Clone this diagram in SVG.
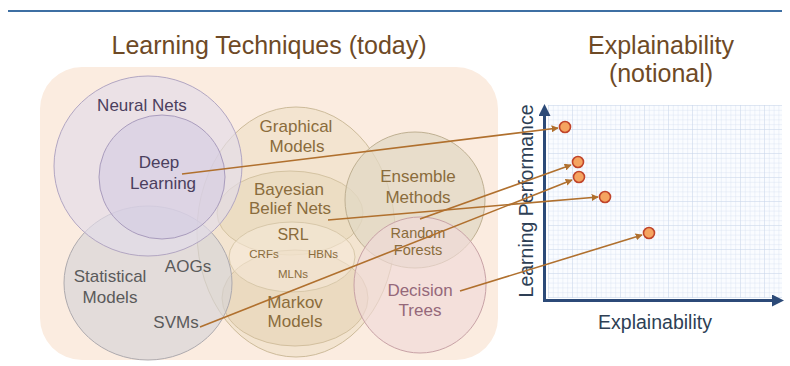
<svg xmlns="http://www.w3.org/2000/svg" width="790" height="366" viewBox="0 0 790 366">
<defs>
<style>
text{font-family:"Liberation Sans",Arial,sans-serif;text-anchor:middle}
.title{font-size:25px;fill:#6e4a26}
.pur{font-size:17px;fill:#4b3f5e}
.gry{font-size:17px;fill:#5a5a5a}
.brn{font-size:17px;fill:#8a6c3c}
.sm{font-size:11.5px;fill:#8a6c3c}
.dt{font-size:17px;fill:#95687a}
.ax{font-size:19.5px;fill:#2e3f55}
.conn{stroke:#b0702e;stroke-width:1.6;fill:none;marker-end:url(#ah)}
.dot{fill:#f5a460;stroke:#c0442a;stroke-width:1.6}
</style>
<marker id="ah" viewBox="0 0 10 10" refX="9" refY="5" markerWidth="7" markerHeight="7" markerUnits="userSpaceOnUse" orient="auto">
<path d="M0,0 L10,5 L0,10 z" fill="#b0702e"/>
</marker>
<marker id="axh" viewBox="0 0 10 10" refX="5" refY="5" markerWidth="4" markerHeight="4" orient="auto">
<path d="M0,0 L10,5 L0,10 z" fill="#2c4a78"/>
</marker>
<pattern id="minor" width="4.8" height="4.8" patternUnits="userSpaceOnUse" x="548" y="105">
<path d="M4.8,0 L0,0 L0,4.8" fill="none" stroke="#d0dcee" stroke-width="0.7"/>
</pattern>
<pattern id="major" width="24" height="24" patternUnits="userSpaceOnUse" x="548" y="105">
<path d="M24,0 L0,0 L0,24" fill="none" stroke="#c6d3e6" stroke-width="0.7"/>
</pattern>
</defs>
<rect width="790" height="366" fill="#ffffff"/>
<line x1="8" y1="11" x2="782" y2="11" stroke="#3e6fa3" stroke-width="2"/>
<text class="title" x="269" y="54">Learning Techniques (today)</text>
<text class="title" x="661" y="54">Explainability</text>
<text class="title" x="661" y="82">(notional)</text>

<rect x="40" y="67" width="458" height="293" rx="42" fill="#fbece0"/>

<g id="graphical-models">
<ellipse cx="296" cy="232" rx="99" ry="125" fill="#eee0c8" fill-opacity="0.65" stroke="#cdbb9a" stroke-width="1"/>
<text class="brn" x="296" y="132">Graphical</text>
<text class="brn" x="297" y="152">Models</text>
</g>
<g id="bayesian-belief-nets">
<ellipse cx="290" cy="213" rx="73" ry="42" fill="#e8d8bb" fill-opacity="0.6" stroke="#d4c3a2" stroke-width="1"/>
<text class="brn" x="289" y="195">Bayesian</text>
<text class="brn" x="290" y="214">Belief Nets</text>
</g>
<g id="markov-models">
<ellipse cx="295" cy="298" rx="73" ry="48" fill="#e6d4b6" fill-opacity="0.6" stroke="#d2bf9e" stroke-width="1"/>
<text class="brn" x="295" y="308">Markov</text>
<text class="brn" x="295" y="327">Models</text>
</g>
<g id="srl">
<ellipse cx="292" cy="257" rx="63" ry="35" fill="#f5ead8" fill-opacity="0.55" stroke="#d8c8aa" stroke-width="1"/>
<text class="brn" x="293" y="240" style="font-size:16px">SRL</text>
<text class="sm" x="264" y="258">CRFs</text>
<text class="sm" x="323" y="258">HBNs</text>
<text class="sm" x="293" y="278">MLNs</text>
</g>
<g id="ensemble-methods">
<ellipse cx="415" cy="200" rx="70" ry="68" fill="#e2d8c4" fill-opacity="0.75" stroke="#bfb092" stroke-width="1"/>
<text class="brn" x="418" y="182">Ensemble</text>
<text class="brn" x="418" y="203">Methods</text>
</g>
<g id="decision-trees">
<ellipse cx="420" cy="285" rx="66" ry="68" fill="#f0dad8" fill-opacity="0.65" stroke="#c8a2a6" stroke-width="1"/>
<text class="brn" x="418" y="238" style="font-size:14.5px">Random</text>
<text class="brn" x="418" y="255" style="font-size:14.5px">Forests</text>
<text class="dt" x="420" y="296">Decision</text>
<text class="dt" x="420" y="316">Trees</text>
</g>
<g id="statistical-models">
<ellipse cx="148" cy="283" rx="84" ry="77" fill="#d6d4d7" fill-opacity="0.65" stroke="#aeaaae" stroke-width="1"/>
<text class="gry" x="110" y="282">Statistical</text>
<text class="gry" x="110" y="303">Models</text>
<text class="gry" x="188" y="272">AOGs</text>
<text class="gry" x="176" y="328">SVMs</text>
</g>
<g id="neural-nets">
<ellipse cx="148" cy="166" rx="94" ry="90" fill="#e2dbea" fill-opacity="0.65" stroke="#b2a6c2" stroke-width="1"/>
<text class="pur" x="142" y="111">Neural Nets</text>
</g>
<g id="deep-learning">
<ellipse cx="162" cy="177" rx="63" ry="62" fill="#d4cce2" fill-opacity="0.6" stroke="#a99cbd" stroke-width="1"/>
<text class="pur" x="159" y="168">Deep</text>
<text class="pur" x="163" y="189">Learning</text>
</g>

<g id="chart">
<rect x="548" y="105" width="234" height="193" fill="#fafcff"/>
<rect x="548" y="105" width="234" height="193" fill="url(#minor)"/>
<rect x="548" y="105" width="234" height="193" fill="url(#major)"/>
<line x1="544.5" y1="301" x2="544.5" y2="110" stroke="#2c4a78" stroke-width="3" marker-end="url(#axh)"/>
<line x1="543" y1="300.5" x2="778" y2="300.5" stroke="#2c4a78" stroke-width="3" marker-end="url(#axh)"/>
<text class="ax" transform="translate(533,201) rotate(-90)">Learning Performance</text>
<text class="ax" x="655" y="329">Explainability</text>
</g>

<g id="points">
<circle class="dot" cx="565" cy="127" r="5.5"/>
<circle class="dot" cx="578" cy="162" r="5.5"/>
<circle class="dot" cx="579" cy="177" r="5.5"/>
<circle class="dot" cx="605" cy="197" r="5.5"/>
<circle class="dot" cx="649" cy="233" r="5.5"/>
</g>

<g id="connectors">
<line class="conn" x1="182" y1="174" x2="558" y2="128"/>
<line class="conn" x1="420" y1="219" x2="571" y2="165"/>
<line class="conn" x1="200" y1="327" x2="572" y2="180"/>
<line class="conn" x1="328" y1="220" x2="598" y2="197"/>
<line class="conn" x1="460" y1="291" x2="642" y2="235"/>
</g>
</svg>
